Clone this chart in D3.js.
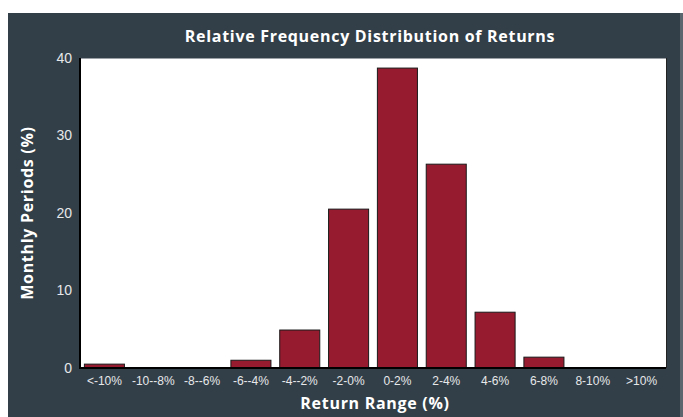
<!DOCTYPE html>
<html>
<head>
<meta charset="utf-8">
<script src="https://cdn.jsdelivr.net/npm/d3@7"></script>
<style>
  html, body { margin: 0; padding: 0; background: #fff; }
  svg { display: block; }
</style>
</head>
<body>
<div id="chart"></div>
<script>
// return buckets and share of monthly periods (%)
const categories = ["<-10%", "-10--8%", "-8--6%", "-6--4%", "-4--2%", "-2-0%", "0-2%", "2-4%", "4-6%", "6-8%", "8-10%", ">10%"];
const values = [0.5, 0, 0, 1.0, 4.9, 20.5, 38.7, 26.3, 7.2, 1.4, 0, 0];
const yTicks = [0, 10, 20, 30, 40];

const width = 683, height = 417;
const margin = { top: 58, right: 17, bottom: 49, left: 80 };

const svg = d3.select("#chart").append("svg")
    .attr("width", width)
    .attr("height", height);

// dark panel
svg.append("rect")
    .attr("x", 8).attr("y", 13)
    .attr("width", 672).attr("height", 404)
    .attr("fill", "#333f48");
svg.append("rect")
    .attr("x", 680).attr("y", 13)
    .attr("width", 3).attr("height", 404)
    .attr("fill", "#5b656d");

const x = d3.scaleBand()
    .domain(categories)
    .range([margin.left, width - margin.right])
    .paddingInner(0.18)
    .paddingOuter(0.09);

const y = d3.scaleLinear()
    .domain([0, 40])
    .range([height - margin.bottom, margin.top]);

// plot background
svg.append("rect")
    .attr("x", margin.left).attr("y", margin.top)
    .attr("width", width - margin.right - margin.left)
    .attr("height", height - margin.bottom - margin.top)
    .attr("fill", "#fff");
svg.append("line")
    .attr("x1", margin.left).attr("x2", width - margin.right)
    .attr("y1", margin.top + 0.5).attr("y2", margin.top + 0.5)
    .attr("stroke", "#9aa0a5");
svg.append("line")
    .attr("x1", width - margin.right + 0.5).attr("x2", width - margin.right + 0.5)
    .attr("y1", margin.top).attr("y2", height - margin.bottom)
    .attr("stroke", "#222");

// bars
svg.append("g")
    .selectAll("rect")
    .data(values)
    .join("rect")
    .attr("x", (d, i) => x(categories[i]))
    .attr("y", d => y(d))
    .attr("width", x.bandwidth())
    .attr("height", d => y(0) - y(d))
    .attr("fill", "#961b2f")
    .attr("stroke", "#1a1a1a")
    .attr("stroke-width", 1)
    .style("display", d => d > 0 ? null : "none");

// axes
const yAxis = svg.append("g")
    .attr("transform", `translate(${margin.left},0)`)
    .call(d3.axisLeft(y).tickValues(yTicks).tickSize(0).tickPadding(8));
yAxis.select(".domain").remove();
yAxis.selectAll("text")
    .attr("fill", "#e6e8ea")
    .style("font-family", "'Liberation Sans', Arial, sans-serif")
    .style("font-size", "14px");

const xAxis = svg.append("g")
    .attr("transform", `translate(0,${height - margin.bottom})`)
    .call(d3.axisBottom(x).tickSize(0).tickPadding(8));
xAxis.select(".domain").remove();
xAxis.selectAll("text")
    .attr("fill", "#e6e8ea")
    .style("font-family", "'Liberation Sans', Arial, sans-serif")
    .style("font-size", "12px");

// axis lines
svg.append("line")
    .attr("x1", margin.left).attr("x2", margin.left)
    .attr("y1", margin.top).attr("y2", height - margin.bottom + 1)
    .attr("stroke", "#000").attr("stroke-width", 2);
svg.append("line")
    .attr("x1", margin.left - 1).attr("x2", width - margin.right)
    .attr("y1", height - margin.bottom).attr("y2", height - margin.bottom)
    .attr("stroke", "#000").attr("stroke-width", 2);

// titles
const titleFont = "'Open Sans', Lato, sans-serif";
function title(sel) {
    return sel.attr("text-anchor", "middle")
        .attr("fill", "#fff")
        .style("font-family", titleFont)
        .style("font-weight", "bold")
        .style("font-size", "16px")
        .style("letter-spacing", "0.7px");
}
svg.append("text")
    .attr("x", 370).attr("y", 42)
    .call(title)
    .text("Relative Frequency Distribution of Returns");

svg.append("text")
    .attr("x", 375).attr("y", 409)
    .call(title)
    .text("Return Range (%)");

svg.append("text")
    .attr("transform", `translate(33,${(margin.top + height - margin.bottom) / 2}) rotate(-90)`)
    .call(title)
    .text("Monthly Periods (%)");
</script>
</body>
</html>
